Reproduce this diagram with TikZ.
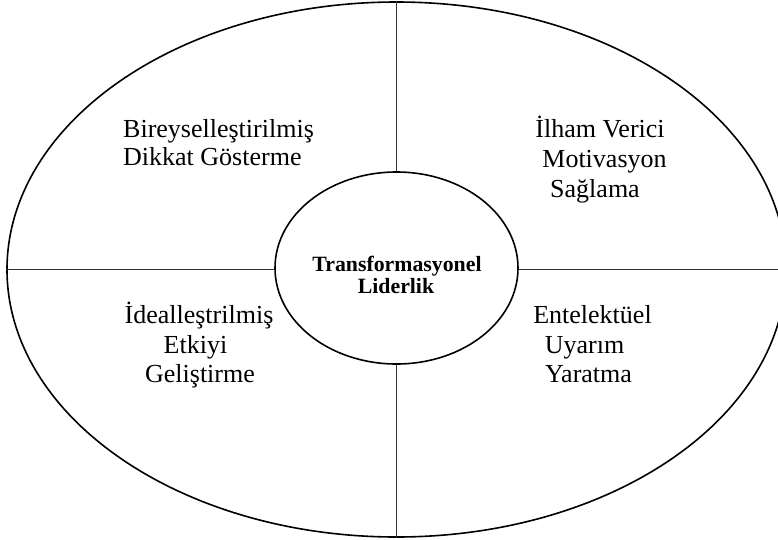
\documentclass[tikz,border=0pt]{standalone}
\usepackage{fontspec}
\setmainfont{Liberation Serif}
\usetikzlibrary{shapes.geometric}
\begin{document}
\begin{tikzpicture}[x=1pt,y=-1pt,
  ell/.style={ellipse, draw=black, line width=1.6pt, inner sep=0pt},
  divider/.style={draw=black!80, line width=1.9pt},
  lbl/.style={font=\fontsize{26}{30}\selectfont, inner sep=0pt, text=black},
  ctr/.style={font=\bfseries\fontsize{21.8}{24}\selectfont, inner sep=0pt, text=black}]
\useasboundingbox (0,0) rectangle (778,539);
\node[ell, minimum width=779pt, minimum height=535pt] (outer) at (396.5,269.5) {};
\node[ell, minimum width=243pt, minimum height=192pt] (inner) at (396.5,268) {};
\draw[divider] (outer.north) -- (inner.north);
\draw[divider] (inner.south) -- (outer.south);
\draw[divider] (outer.west) -- (inner.west |- outer.west);
\draw[divider] (inner.east |- outer.east) -- (outer.east);
% centre
\node[ctr, anchor=base] (c1) at (397,271) {Transformasyonel};
\node[ctr, anchor=base] (c2) at (396,293) {Liderlik};
% top left
\node[lbl, anchor=base west] (tl1) at (123,137) {Bireyselleştirilmiş};
\node[lbl, anchor=base west] (tl2) at (123,165) {Dikkat Gösterme};
% top right
\node[lbl, anchor=base] (tr1) at (600,137) {İlham Verici};
\node[lbl, anchor=base] (tr2) at (604.5,167) {Motivasyon};
\node[lbl, anchor=base] (tr3) at (595,197) {Sağlama};
% bottom left
\node[lbl, anchor=base] (bl1) at (199,323) {İdealleştrilmiş};
\node[lbl, anchor=base] (bl2) at (195.5,353) {Etkiyi};
\node[lbl, anchor=base] (bl3) at (200,382) {Geliştirme};
% bottom right
\node[lbl, anchor=base] (br1) at (592.5,323) {Entelektüel};
\node[lbl, anchor=base] (br2) at (584.5,353) {Uyarım};
\node[lbl, anchor=base] (br3) at (588.5,382) {Yaratma};
\end{tikzpicture}
\end{document}
